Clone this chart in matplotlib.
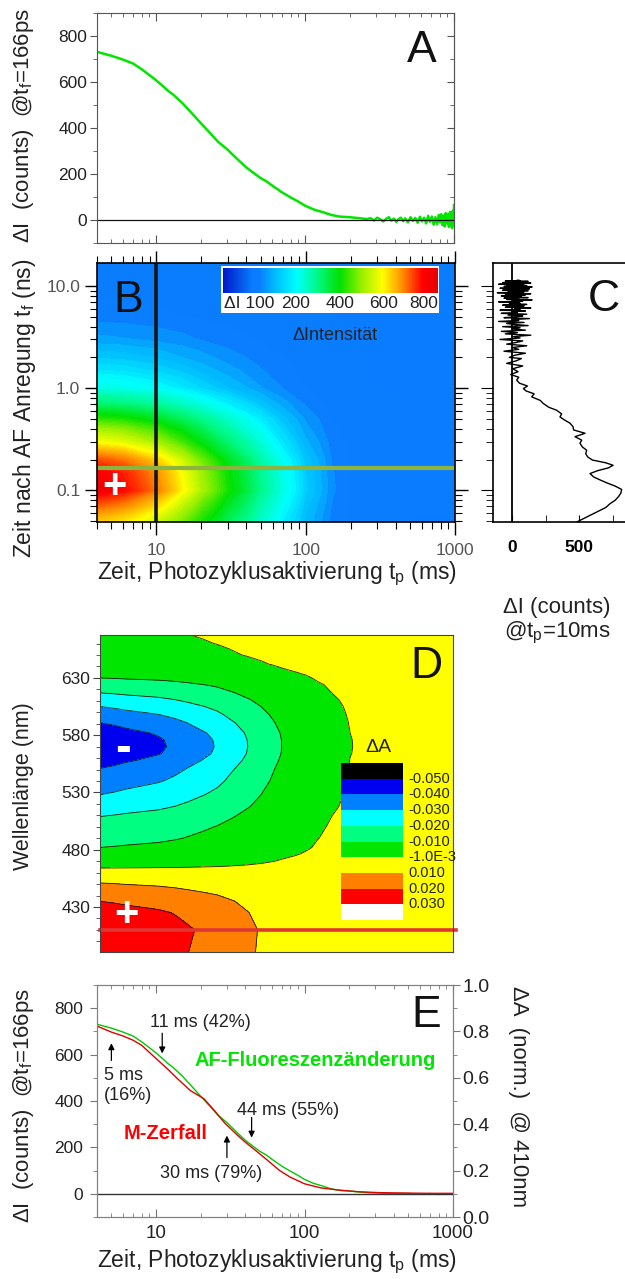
import numpy as np
import matplotlib
matplotlib.use('Agg')
import matplotlib.pyplot as plt
from matplotlib.colors import LinearSegmentedColormap, Normalize
from matplotlib.patches import Rectangle
from matplotlib.ticker import FixedLocator, FixedFormatter, NullFormatter, LogLocator, MultipleLocator

plt.rcParams['font.family'] = ['Liberation Sans', 'DejaVu Sans']
plt.rcParams['mathtext.fontset'] = 'custom'
plt.rcParams['mathtext.rm'] = 'Liberation Sans'
plt.rcParams['mathtext.it'] = 'Liberation Sans'
plt.rcParams['mathtext.bf'] = 'Liberation Sans:bold'
plt.rcParams['contour.negative_linestyle'] = 'solid'

# ---------------- DATA ----------------
# Panel A / E : fluorescence change at t_f = 166 ps vs photocycle time t_p (ms)
tp_A = [4.0, 4.5, 5.0, 6.0, 7.0, 8.0, 9.0, 10, 11, 12, 13, 15, 17, 20, 23, 26, 30, 35,
        40, 45, 50, 55, 60, 70, 80, 90, 100, 115, 130, 150, 170, 200, 230]
dI_A = [731, 722, 714, 697, 680, 655, 630, 607, 584, 562, 545, 508, 470, 420, 378, 340, 307, 265,
        230, 205, 183, 168, 150, 120, 98, 80, 62, 45, 35, 22, 15, 12, 8]
tp_A_tail = [260, 275, 290, 305, 320, 335, 350, 365, 380, 395, 410, 425, 440, 455, 470, 490,
             510, 530, 550, 570, 590, 610, 630, 650, 670, 690, 710, 730, 750, 770, 790, 805,
             820, 835, 850, 865, 880, 895, 910, 925, 940, 950, 960, 970, 980, 990, 1000]
dI_A_tail = [4, 8, -2, 10, 3, -6, 5, 12, -3, 6, -8, 4, 10, -5, 7, -10,
             12, -4, 9, -12, 14, -6, 10, -15, 18, -8, 15, -20, 12, -18, 22, -10,
             25, -22, 18, -28, 30, -15, 25, -30, 35, -20, 28, -35, 40, -25, 65]
tp_E_tail = [260, 320, 400, 500, 600, 700, 800, 900, 1000]
dI_E_tail = [5, 3, 1, 2, -2, 1, -3, 0, -3]

# Panel E : M-decay, normalised dA at 410 nm
tp_M = [4, 5, 6, 7, 8, 10, 12, 14, 17, 21, 25, 29, 35, 40, 47, 55, 68, 80, 100, 130,
        170, 230, 320, 500, 700, 1000]
dA_M = [0.823, 0.797, 0.78, 0.762, 0.74, 0.683, 0.637, 0.595, 0.545, 0.51, 0.455, 0.405,
        0.355, 0.322, 0.286, 0.25, 0.2, 0.172, 0.143, 0.125, 0.116, 0.109, 0.105, 0.103,
        0.102, 0.102]

# Panel B : intensity map  (rows: t_f in ns, columns: t_p in ms)
tp_B = [4, 6, 10, 15, 20, 30, 50, 70, 100, 150, 200, 300, 500, 1000]
tf_B = [0.045, 0.07, 0.1, 0.15, 0.2, 0.3, 0.5, 0.7, 1.0, 1.5, 2.0, 3.0, 5.0, 10.0, 18.0]
dI_B = [
    [626, 601, 539, 464, 402, 323, 237, 186, 145, 116, 107, 102, 100, 100],
    [728, 699, 625, 534, 461, 367, 263, 203, 153, 119, 109, 103, 100, 100],
    [830, 796, 710, 605, 520, 410, 290, 220, 162, 122, 110, 103, 100, 100],
    [808, 775, 692, 590, 507, 401, 284, 216, 160, 121, 110, 103, 100, 100],
    [742, 712, 637, 544, 470, 373, 267, 206, 155, 119, 109, 103, 100, 100],
    [589, 566, 509, 438, 381, 308, 227, 180, 142, 115, 107, 102, 100, 100],
    [429, 413, 375, 327, 289, 240, 186, 154, 128, 110, 105, 101, 100, 100],
    [312, 302, 277, 246, 222, 190, 155, 135, 118, 106, 103, 101, 100, 100],
    [220, 215, 201, 183, 169, 151, 131, 120, 110, 104, 102, 100, 100, 100],
    [180, 177, 167, 156, 146, 134, 121, 113, 107, 102, 101, 100, 100, 100],
    [158, 156, 149, 140, 134, 125, 115, 110, 105, 102, 101, 100, 100, 100],
    [133, 131, 127, 123, 119, 114, 109, 105, 103, 101, 100, 100, 100, 100],
    [115, 114, 112, 110, 108, 106, 104, 102, 101, 100, 100, 100, 100, 100],
    [106, 106, 105, 104, 103, 102, 102, 101, 100, 100, 100, 100, 100, 100],
    [100, 100, 100, 100, 100, 100, 100, 100, 100, 100, 100, 100, 100, 100],
]
cbar_ticks = [100, 200, 400, 600, 800]
tp_cut = 10        # ms (panel C cut)
tf_cut = 0.166     # ns (panel A cut)
tf_ticks = [0.1, 1.0, 10.0]
tf_ticklabels = ['0.1', '1.0', '10.0']
tp_ticks = [10, 100, 1000]
tp_ticklabels = ['10', '100', '1000']

# Panel C : dI at t_p = 10 ms vs t_f (ns)
tf_C = [0.049, 0.055, 0.062, 0.068, 0.074, 0.080, 0.087, 0.094, 0.102, 0.110, 0.118, 0.126,
        0.135, 0.146, 0.156, 0.166, 0.176, 0.186, 0.198, 0.212, 0.228, 0.247, 0.266, 0.289,
        0.31, 0.335, 0.362, 0.39, 0.42, 0.454, 0.49, 0.523, 0.56, 0.608, 0.65, 0.707, 0.76,
        0.822, 0.88, 0.94, 0.99, 1.05, 1.12, 1.2,
        1.28, 1.36, 1.45, 1.55, 1.65, 1.75, 1.85, 1.95,
        2.0, 2.1, 2.2, 2.3, 2.4, 2.5, 2.6, 2.7, 2.8, 2.9,
        3.0, 3.1, 3.2, 3.3, 3.4, 3.5, 3.6, 3.7, 3.8, 3.9,
        4.0, 4.1, 4.2, 4.3, 4.4, 4.5, 4.6, 4.7, 4.8, 4.9,
        5.0, 5.1, 5.2, 5.3, 5.4, 5.5, 5.6, 5.7, 5.8, 5.9,
        6.0, 6.1, 6.2, 6.3, 6.4, 6.5, 6.6, 6.7, 6.8, 6.9,
        7.0, 7.1, 7.2, 7.3, 7.4, 7.5, 7.6, 7.7, 7.8, 7.9,
        8.0, 8.1, 8.2, 8.3, 8.4, 8.5, 8.6, 8.7, 8.8, 8.9,
        9.0, 9.1, 9.2, 9.3, 9.4, 9.5, 9.6, 9.7, 9.8, 9.9,
        10.0, 10.1, 10.2, 10.3, 10.4, 10.5, 10.6, 10.7, 10.8, 10.9,
        11.0, 11.1, 11.2, 11.3, 11.4]
dI_C = [483, 560, 640, 700, 731, 770, 795, 812, 818, 770, 710, 660,
        610, 582, 640, 720, 754, 700, 600, 565, 550, 557, 525, 507,
        520, 470, 545, 460, 455, 433, 390, 358, 370, 333, 275, 234, 210,
        147, 165, 105, 85, 115, 55, 35,
        50, -10, 45, 5, 80, -40, 30, 70,
        -20, 20, 100, -60, 50, 0, 110, -40, 30, 80,
        -90, 60, 10, 140, -50, 40, -80, 100, 0, 60,
        -70, 120, 20, -40, 90, -100, 50, 10, 130, -60,
        30, 80, -30, 110, -80, 40, 0, 100, -90, 60,
        20, 140, -50, 30, 90, -70, 110, -20, 60, 40,
        -100, 80, 10, 150, -40, 50, -60, 120, 0, 70,
        -80, 30, 100, -50, 140, 10, -110, 60, 90, -30,
        120, -70, 40, 0, 130, -90, 50, 20, 150, -60,
        30, 110, -40, 70, -100, 90, 10, 140, -70, 40,
        -20, 120, -50, 60, 40]
dIC_ticks = [0, 500]

# Panel D : absorbance change (mdA); spectrum at t_p = 4 ms and relative kinetics
wl_D = [390, 410, 425, 435, 445, 451, 458, 464, 470, 476, 482, 490, 500, 509, 518, 528,
        540, 551, 558, 564, 570, 576, 582, 591, 598, 605, 611, 617, 624, 630, 636, 642,
        650, 660, 670]
dA_spec_4ms = [27, 28, 24.5, 20, 13.5, 10, 5, -1, -4, -7, -10, -13, -16, -20, -25, -30,
               -35.5, -40, -44, -47, -48, -47.5, -45.5, -40, -35, -30, -25, -20, -15, -10, -6, -3.5,
               -2.2, -1.6, -1.3]
tp_D = [4, 5, 6, 8, 10, 13, 16, 20, 25, 30, 40, 50, 60, 70, 85, 100, 120, 150, 200, 300, 1000]
kin_D = [1.0, 0.965, 0.93, 0.89, 0.86, 0.80, 0.74, 0.675, 0.61, 0.535, 0.42, 0.33, 0.26, 0.2,
         0.155, 0.12, 0.08, 0.05, 0.022, 0.008, 0.0]
dA_levels = [-0.05, -0.04, -0.03, -0.02, -0.01, -0.001, 0.01, 0.02, 0.03]
dA_labels = ['-0.050', '-0.040', '-0.030', '-0.020', '-0.010', '-1.0E-3', '0.010', '0.020', '0.030']
D_colors = ['#000000', '#0000f0', '#0080ff', '#00ffff', '#00ff80', '#00e600',
            '#ffff00', '#ff8000', '#ff0000', '#ffffff']
wl_cut = 410
wl_ticks = [430, 480, 530, 580, 630]

# Panel E annotations: arrow at t_p, from / to (dI units)
arrow_t = [5, 11, 30, 44]
arrow_from = [575, 692, 156, 329]
arrow_to = [649, 605, 251, 242]

# ---------------- FIGURE ----------------
W, H = 625, 1279
fig = plt.figure(figsize=(W / 100, H / 100), dpi=100)


def rect(l, t, r, b):
    return [l / W, 1 - b / H, (r - l) / W, (b - t) / H]


def fx(x):
    return x / W


def fy(y):
    return 1 - y / H


XLIM = (4, 1000)


def logminor():
    return LogLocator(base=10, subs=[2, 3, 4, 5, 6, 7, 8, 9], numticks=30)


DARK = '#222222'

# ---- Panel A
axA = fig.add_axes(rect(97, 13, 454, 243))
axA.plot(tp_A + tp_A_tail, dI_A + dI_A_tail, color='#00e600', lw=1.8)
axA.axhline(0, color='#111111', lw=0.9)
axA.set_xscale('log')
axA.set_xlim(XLIM)
axA.set_ylim(-100, 900)
axA.yaxis.set_major_locator(FixedLocator([0, 200, 400, 600, 800]))
axA.yaxis.set_minor_locator(MultipleLocator(100))
axA.xaxis.set_minor_locator(logminor())
axA.tick_params(axis='y', which='both', direction='out', right=False, labelsize=12.5,
                labelcolor=DARK, pad=2, color='#555555')
axA.tick_params(axis='y', which='major', length=5)
axA.tick_params(axis='y', which='minor', length=3)
axA.tick_params(axis='x', which='both', direction='in', top=True, labelbottom=False, color='#555555')
axA.tick_params(axis='x', which='major', length=6)
axA.tick_params(axis='x', which='minor', length=3)
secA = axA.secondary_yaxis('right')
secA.yaxis.set_major_locator(FixedLocator([0, 200, 400, 600, 800]))
secA.yaxis.set_minor_locator(MultipleLocator(100))
secA.tick_params(which='both', direction='in', labelright=False, color='#555555')
secA.tick_params(which='major', length=5)
secA.tick_params(which='minor', length=3)
for sp in list(axA.spines.values()) + [secA.spines['right']]:
    sp.set_color('#555555')

# ---- Panel B
nodes = [(-100, '#0000be'), (95, '#0a7dff'), (112, '#0a7dff'), (150, '#00beff'), (200, '#00ffff'),
         (290, '#00fa8c'), (400, '#00e100'), (500, '#96f000'), (600, '#ffff00'),
         (700, '#ff8c00'), (800, '#ff0000'), (850, '#e60000')]
vmin_B, vmax_B = nodes[0][0], nodes[-1][0]
cmapB = LinearSegmentedColormap.from_list(
    'bmap', [((v - vmin_B) / (vmax_B - vmin_B), c) for v, c in nodes])
normB = Normalize(vmin_B, vmax_B)

axB = fig.add_axes(rect(97, 263, 455, 522))
TP, TF = np.meshgrid(tp_B, tf_B)
axB.contourf(TP, TF, np.array(dI_B, dtype=float), levels=np.linspace(90, 850, 77),
             cmap=cmapB, norm=normB, extend='both')
axB.set_xscale('log')
axB.set_yscale('log')
axB.set_xlim(XLIM)
axB.set_ylim(0.049, 16.8)
axB.axvline(tp_cut, color='#151515', lw=2.6)
axB.axhline(tf_cut, color='#8db43e', lw=3)
axB.yaxis.set_major_locator(FixedLocator(tf_ticks))
axB.yaxis.set_major_formatter(FixedFormatter(tf_ticklabels))
axB.yaxis.set_minor_locator(logminor())
axB.yaxis.set_minor_formatter(NullFormatter())
axB.xaxis.set_major_locator(FixedLocator(tp_ticks))
axB.xaxis.set_major_formatter(FixedFormatter(tp_ticklabels))
axB.xaxis.set_minor_locator(logminor())
axB.xaxis.set_minor_formatter(NullFormatter())
axB.tick_params(which='both', direction='out', top=True, right=True, labelsize=12.5,
                labelcolor='#555555', pad=3)
axB.tick_params(which='major', length=9, width=1.0)
axB.tick_params(which='minor', length=5, width=0.8)
axB.tick_params(axis='x', pad=6)
for sp in axB.spines.values():
    sp.set_linewidth(1.2)
axB.text(5.2, 0.108, '+', color='white', fontsize=30, fontweight='bold', ha='center', va='center')

# colour bar inside panel B
caxB = fig.add_axes(rect(221, 266, 439, 313))
caxB.set_xlim(0, 1)
caxB.set_ylim(0, 1)
caxB.axis('off')
caxB.add_patch(Rectangle((0, 0), 1, 1, fc='white', ec='none', transform=caxB.transAxes, zorder=0))
cb_pos = [0.0, 0.14, 0.344, 0.544, 0.744, 0.93, 1.0]
cb_vals = [-60] + cbar_ticks + [850]
grad = np.interp(np.linspace(0, 1, 400), cb_pos, cb_vals)
caxB.imshow(grad[None, :], aspect='auto', cmap=cmapB, norm=normB,
            extent=(0.009, 0.995, 0.43, 0.96), zorder=2)
caxB.set_xlim(0, 1)
caxB.set_ylim(0, 1)
caxB.text(0.015, 0.2, 'ΔI ' + str(cbar_ticks[0]), fontsize=12.5, color=DARK, ha='left', va='center', zorder=3)
for v, p in zip(cbar_ticks[1:], cb_pos[2:6]):
    caxB.text(p, 0.2, str(v), fontsize=12.5, color=DARK, ha='center', va='center', zorder=3)
fig.text(fx(335), fy(336), 'ΔIntensität', fontsize=13, color=DARK, ha='center', va='center')

# ---- Panel C
axC = fig.add_axes(rect(493, 263, 640, 522))
axC.plot(dI_C, tf_C, color='black', lw=1.0)
axC.axvline(0, color='black', lw=1.3)
axC.set_yscale('log')
axC.set_ylim(0.049, 16.8)
axC.set_xlim(-142, 955)
axC.spines['right'].set_visible(False)
axC.xaxis.set_major_locator(FixedLocator(dIC_ticks))
axC.xaxis.set_major_formatter(FixedFormatter([str(v) for v in dIC_ticks]))
axC.xaxis.set_minor_locator(FixedLocator([250, 750]))
axC.tick_params(axis='x', which='both', direction='in', labelsize=12.5, pad=13)
axC.tick_params(axis='x', which='major', length=5)
axC.tick_params(axis='x', which='minor', length=5)
for lab in axC.get_xticklabels():
    lab.set_fontweight('bold')
axC.yaxis.set_major_locator(FixedLocator(tf_ticks))
axC.yaxis.set_minor_locator(logminor())
axC.tick_params(axis='y', which='both', direction='out', labelleft=False, right=False)
axC.tick_params(axis='y', which='major', length=9)
axC.tick_params(axis='y', which='minor', length=5)
for sp in axC.spines.values():
    sp.set_linewidth(1.2)

# ---- Panel D
axD = fig.add_axes(rect(100, 635, 453, 952))
TPD, WLD = np.meshgrid(tp_D, wl_D)
ZD = np.outer(dA_spec_4ms, kin_D) * 1e-3      # map table built from the two read profiles
axD.contourf(TPD, WLD, ZD, levels=[-1.0] + dA_levels + [1.0], colors=D_colors)
axD.contour(TPD, WLD, ZD, levels=dA_levels, colors='#1a1a1a', linewidths=0.6)
axD.set_xscale('log')
axD.set_xlim(XLIM)
axD.set_ylim(390.7, 667.5)
axD.axhline(wl_cut, color='#e03535', lw=2.6, xmin=0, xmax=1.008, clip_on=False)
axD.yaxis.set_major_locator(FixedLocator(wl_ticks))
axD.yaxis.set_minor_locator(MultipleLocator(10))
axD.tick_params(axis='y', which='both', direction='out', labelsize=12.5, labelcolor=DARK,
                pad=2, color='#444444')
axD.tick_params(axis='y', which='major', length=5)
axD.tick_params(axis='y', which='minor', length=3)
axD.tick_params(axis='x', which='both', bottom=False, labelbottom=False)
for sp in axD.spines.values():
    sp.set_color('#444444')
axD.text(6.05, 423, '+', color='white', fontsize=30, fontweight='bold', ha='center', va='center')
axD.text(5.7, 568, '-', color='white', fontsize=34, fontweight='bold', ha='center', va='center')

# legend of panel D
fig.text(fx(378), fy(748), 'ΔA', fontsize=14, color=DARK, ha='center', va='center')
box_top, box_h = 763, 15.7
for i, c in enumerate(D_colors):
    if c == '#ffff00':
        continue
    fig.add_artist(Rectangle((fx(341), fy(box_top + (i + 1) * box_h)), 62 / W, box_h / H,
                             transform=fig.transFigure, fc=c, ec='none', zorder=5))
for i, lab in enumerate(dA_labels):
    fig.text(fx(408), fy(box_top + (i + 1) * box_h), lab, fontsize=10.5, color=DARK,
             ha='left', va='center', zorder=6)

# ---- Panel E
axE = fig.add_axes(rect(97, 985, 453, 1217))
axE.plot(tp_A + tp_E_tail, dI_A + dI_E_tail, color='#00c800', lw=1.0)
axE.axhline(0, color='#333333', lw=1.0)
axE.set_xscale('log')
axE.set_xlim(XLIM)
axE.set_ylim(-100, 900)
axE.yaxis.set_major_locator(FixedLocator([0, 200, 400, 600, 800]))
axE.yaxis.set_minor_locator(MultipleLocator(100))
axE.xaxis.set_major_locator(FixedLocator(tp_ticks))
axE.xaxis.set_major_formatter(FixedFormatter(tp_ticklabels))
axE.xaxis.set_minor_locator(logminor())
axE.xaxis.set_minor_formatter(NullFormatter())
axE.tick_params(axis='y', which='both', direction='out', labelsize=12.5, labelcolor=DARK,
                color='#777777', pad=5, right=False)
axE.tick_params(axis='y', which='major', length=5)
axE.tick_params(axis='y', which='minor', length=3)
axE.tick_params(axis='x', which='both', direction='in', top=True, labelsize=13.5,
                labelcolor=DARK, color='#777777', pad=6)
axE.tick_params(axis='x', which='major', length=6)
axE.tick_params(axis='x', which='minor', length=3)
axE2 = axE.twinx()
axE2.plot(tp_M, dA_M, color='#e00000', lw=1.0)
axE2.set_ylim(0, 1)
axE2.yaxis.set_major_locator(FixedLocator([0, 0.2, 0.4, 0.6, 0.8, 1.0]))
axE2.yaxis.set_major_formatter(FixedFormatter(['0.0', '0.2', '0.4', '0.6', '0.8', '1.0']))
axE2.yaxis.set_minor_locator(MultipleLocator(0.1))
axE2.tick_params(which='both', direction='out', labelsize=14, labelcolor=DARK, color='#777777', pad=2)
axE2.tick_params(which='major', length=5)
axE2.tick_params(which='minor', length=3)
for ax in (axE, axE2):
    for sp in ax.spines.values():
        sp.set_color('#808080')

for t, y0, y1 in zip(arrow_t, arrow_from, arrow_to):
    axE.annotate('', xy=(t, y1), xytext=(t, y0),
                 arrowprops=dict(arrowstyle='-|>', color='black', lw=0.9, mutation_scale=9,
                                 shrinkA=0, shrinkB=0))
axE.text(19.8, 740, '11 ms (42%)', fontsize=13, color=DARK, ha='center', va='center')
axE.text(4.45, 467, '5 ms\n(16%)', fontsize=13, color=DARK, ha='left', va='center', linespacing=1.25)
axE.text(77.3, 359, '44 ms (55%)', fontsize=13, color=DARK, ha='center', va='center')
axE.text(23.4, 86, '30 ms (79%)', fontsize=13, color=DARK, ha='center', va='center')
axE.text(117.5, 575, 'AF-Fluoreszenzänderung', fontsize=14.5, fontweight='bold',
         color='#00e600', ha='center', va='center')
axE.text(11.65, 259, 'M-Zerfall', fontsize=14.5, fontweight='bold', color='#ff0000',
         ha='center', va='center')

# ---- panel letters
for s, x, y in [('A', 422, 62), ('B', 128, 312), ('C', 604, 311), ('D', 426, 678), ('E', 426, 1027)]:
    fig.text(fx(x), fy(y), s, fontsize=32, color='#111111', ha='center', va='baseline', zorder=7)

# ---- axis labels
ylab_A = 'ΔI  (counts)  @t$_\\mathrm{f}$=166ps'
fig.text(fx(24), fy(126), ylab_A, rotation=90, fontsize=16, color=DARK, ha='center', va='center')
fig.text(fx(25), fy(408), 'Zeit nach AF Anregung t$_\\mathrm{f}$ (ns)', rotation=90,
         fontsize=16.5, color=DARK, ha='center', va='center')
xlab = 'Zeit, Photozyklusaktivierung t$_\\mathrm{p}$ (ms)'
fig.text(fx(277), fy(574), xlab, fontsize=16.5, color=DARK, ha='center', va='center')
fig.text(fx(557), fy(607), 'ΔI (counts)', fontsize=16, color=DARK, ha='center', va='center')
fig.text(fx(557), fy(633), '@t$_\\mathrm{p}$=10ms', fontsize=16, color=DARK, ha='center', va='center')
fig.text(fx(24), fy(786), 'Wellenlänge (nm)', rotation=90, fontsize=15.5, color=DARK,
         ha='center', va='center')
fig.text(fx(24), fy(1106), ylab_A, rotation=90, fontsize=16, color=DARK, ha='center', va='center')
fig.text(fx(519), fy(1097), 'ΔA  (norm.)  @ 410nm', rotation=-90, fontsize=16, color=DARK,
         ha='center', va='center')
fig.text(fx(277), fy(1262), xlab, fontsize=16.5, color=DARK, ha='center', va='center')

fig.savefig('out.png', dpi=100)
